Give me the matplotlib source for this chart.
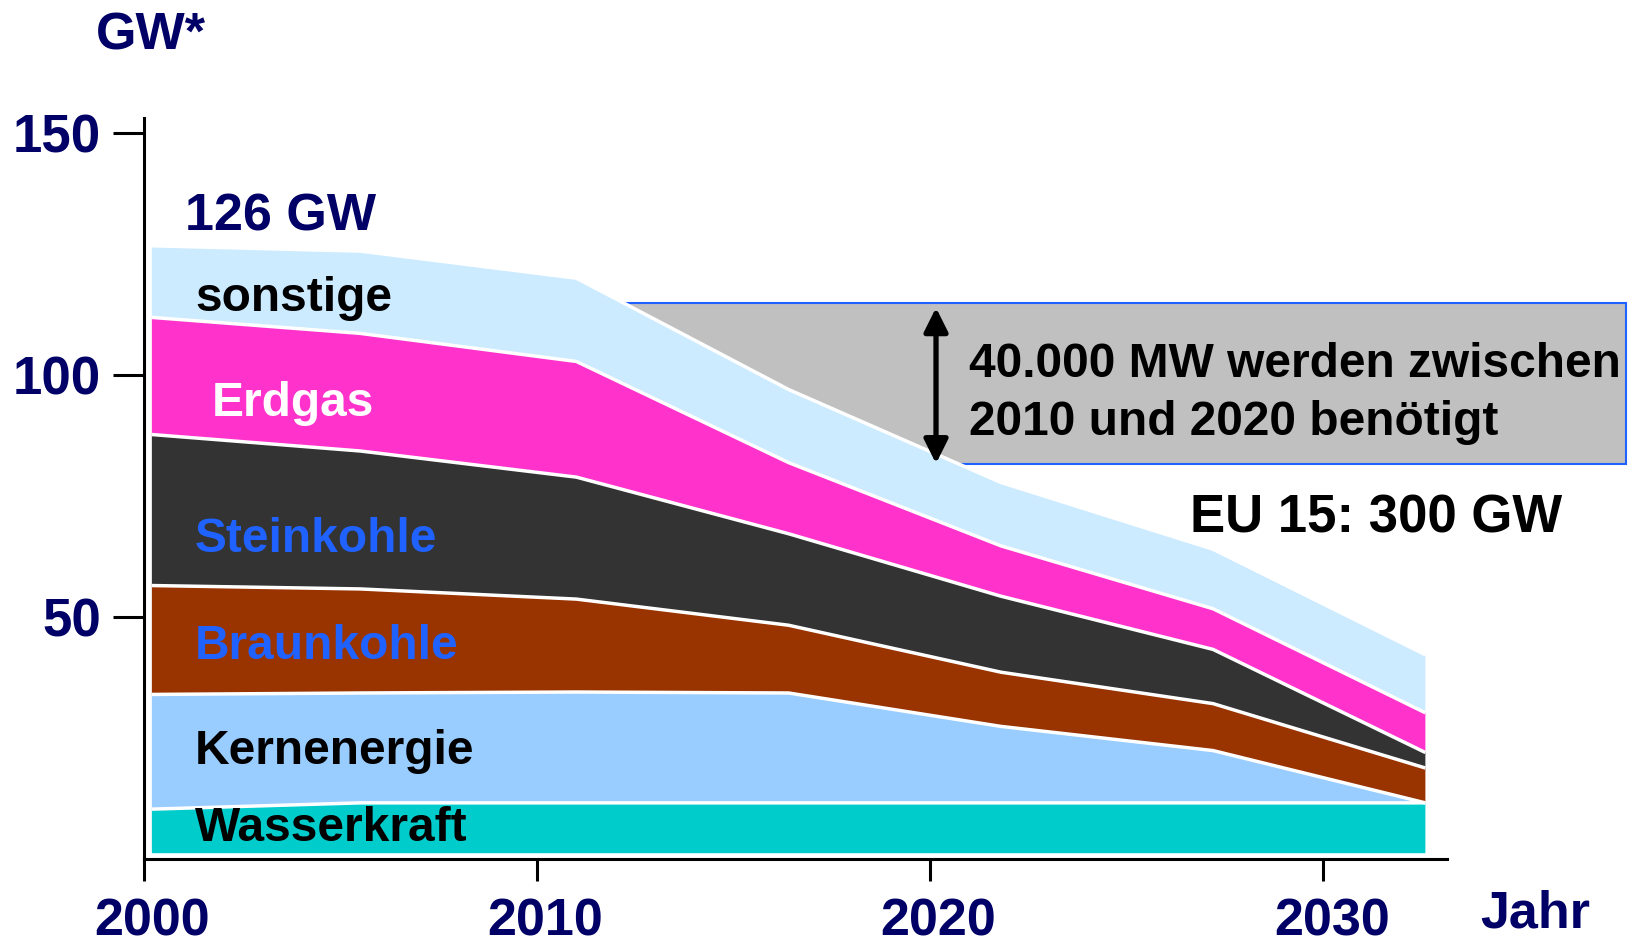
import matplotlib
matplotlib.use("Agg")
import matplotlib.pyplot as plt
import matplotlib.transforms as mtransforms
from matplotlib.patches import Rectangle
import numpy as np

plt.rcParams['font.family'] = ['Liberation Sans', 'DejaVu Sans']
plt.rcParams['font.weight'] = 'bold'

# ---- data (GW) ----
years = [2000.2, 2005.5, 2011.0, 2016.4, 2021.8, 2027.2, 2032.6]
wasserkraft = [9.1, 10.4, 10.4, 10.4, 10.4, 10.4, 10.4]
kernenergie = [23.7, 22.7, 22.9, 22.7, 15.8, 10.8, 0.0]
braunkohle = [22.5, 21.5, 19.2, 14.0, 11.2, 9.7, 7.2]
steinkohle = [31.2, 28.5, 25.2, 18.9, 15.7, 11.2, 3.2]
erdgas = [24.2, 24.3, 23.9, 14.7, 10.4, 8.4, 8.2]
sonstige = [14.8, 17.0, 17.2, 15.1, 13.1, 12.3, 12.0]

series = [wasserkraft, kernenergie, braunkohle, steinkohle, erdgas, sonstige]
names = ["Wasserkraft", "Kernenergie", "Braunkohle", "Steinkohle", "Erdgas", "sonstige"]
colors = ["#00CCCC", "#99CCFF", "#993300", "#333333", "#FF33CC", "#CCEBFF"]
label_colors = ["black", "black", "#1F62FF", "#1F62FF", "white", "black"]
label_x = [2001.3, 2001.3, 2001.3, 2001.3, 2001.72, 2001.3]
label_y = [3.7, 19.6, 41.3, 63.4, 91.5, 113.2]

xticks = [2000, 2010, 2020, 2030]
yticks = [50, 100, 150]

gap_top, gap_bottom = 114.9, 81.7
gap_x0, gap_x1 = 2000.3, 2037.7
base_offset = 1.2

navy = "#000066"

fig = plt.figure(figsize=(16.34, 9.44), dpi=100)
ax = fig.add_axes([144/1634, 1-859/944, (1447-144)/1634, (859-118)/944])
ax.set_xlim(2000, 2033.15)
ax.set_ylim(0, 153.1)

# grey box behind areas
ax.add_patch(Rectangle((gap_x0, gap_bottom), gap_x1-gap_x0, gap_top-gap_bottom,
                       facecolor="#C0C0C0", edgecolor="#1F62FF", lw=1.5,
                       clip_on=False, zorder=0.5))

x = np.array(years)
bottom = np.full(len(x), base_offset)
for vals, col in zip(series, colors):
    top = bottom + np.array(vals)
    ax.fill_between(x, bottom, top, facecolor=col, edgecolor="none", zorder=1)
    ax.plot(x, top, color="white", lw=2.5, zorder=2, solid_capstyle='butt')
    bottom = top

for name, col, xx, yy in zip(names, label_colors, label_x, label_y):
    ax.text(xx, yy, name, color=col, fontsize=34.5, fontweight='bold',
            va='baseline', ha='left', zorder=5)

ax.text(2001.04, 129.8, "126 GW", color=navy, fontsize=37.5, fontweight='bold',
        va='baseline', ha='left')
ax.text(2021.0, 99.6, "40.000 MW werden zwischen", color="black", fontsize=34.5,
        fontweight='bold', va='baseline', ha='left', zorder=5)
ax.text(2021.0, 87.6, "2010 und 2020 benötigt", color="black", fontsize=34.5,
        fontweight='bold', va='baseline', ha='left', zorder=5)
ax.text(2026.6, 67.5, "EU 15: 300 GW", color="black", fontsize=38,
        fontweight='bold', va='baseline', ha='left', zorder=5)

ax.annotate("", xy=(2020.15, gap_bottom), xytext=(2020.15, gap_top - 1.0),
            arrowprops=dict(arrowstyle="<|-|>", color="black", lw=3.8,
                            mutation_scale=36, shrinkA=0, shrinkB=0),
            zorder=6)

# axes styling
for s in ["top", "right"]:
    ax.spines[s].set_visible(False)
for s in ["left", "bottom"]:
    ax.spines[s].set_linewidth(2.2)
    ax.spines[s].set_color("black")
ax.set_xticks(xticks)
ax.set_yticks(yticks)
ax.tick_params(axis='x', direction='out', length=16, width=2.2, pad=12,
               labelsize=37.5, labelcolor=navy)
ax.tick_params(axis='y', direction='out', length=22, width=2.2, pad=9,
               labelsize=38, labelcolor=navy)
for lab in ax.get_xticklabels() + ax.get_yticklabels():
    lab.set_fontweight('bold')
offset = mtransforms.ScaledTranslation(8.5/100, 0, fig.dpi_scale_trans)
for lab in ax.get_xticklabels():
    lab.set_transform(lab.get_transform() + offset)

fig.text(96/1634, 1-49/944, "GW*", color=navy, fontsize=37.5, fontweight='bold',
         va='baseline', ha='left')
fig.text(1480/1634, 1-927/944, "Jahr", color=navy, fontsize=37.5, fontweight='bold',
         va='baseline', ha='left')

fig.savefig("out.png", dpi=100)
